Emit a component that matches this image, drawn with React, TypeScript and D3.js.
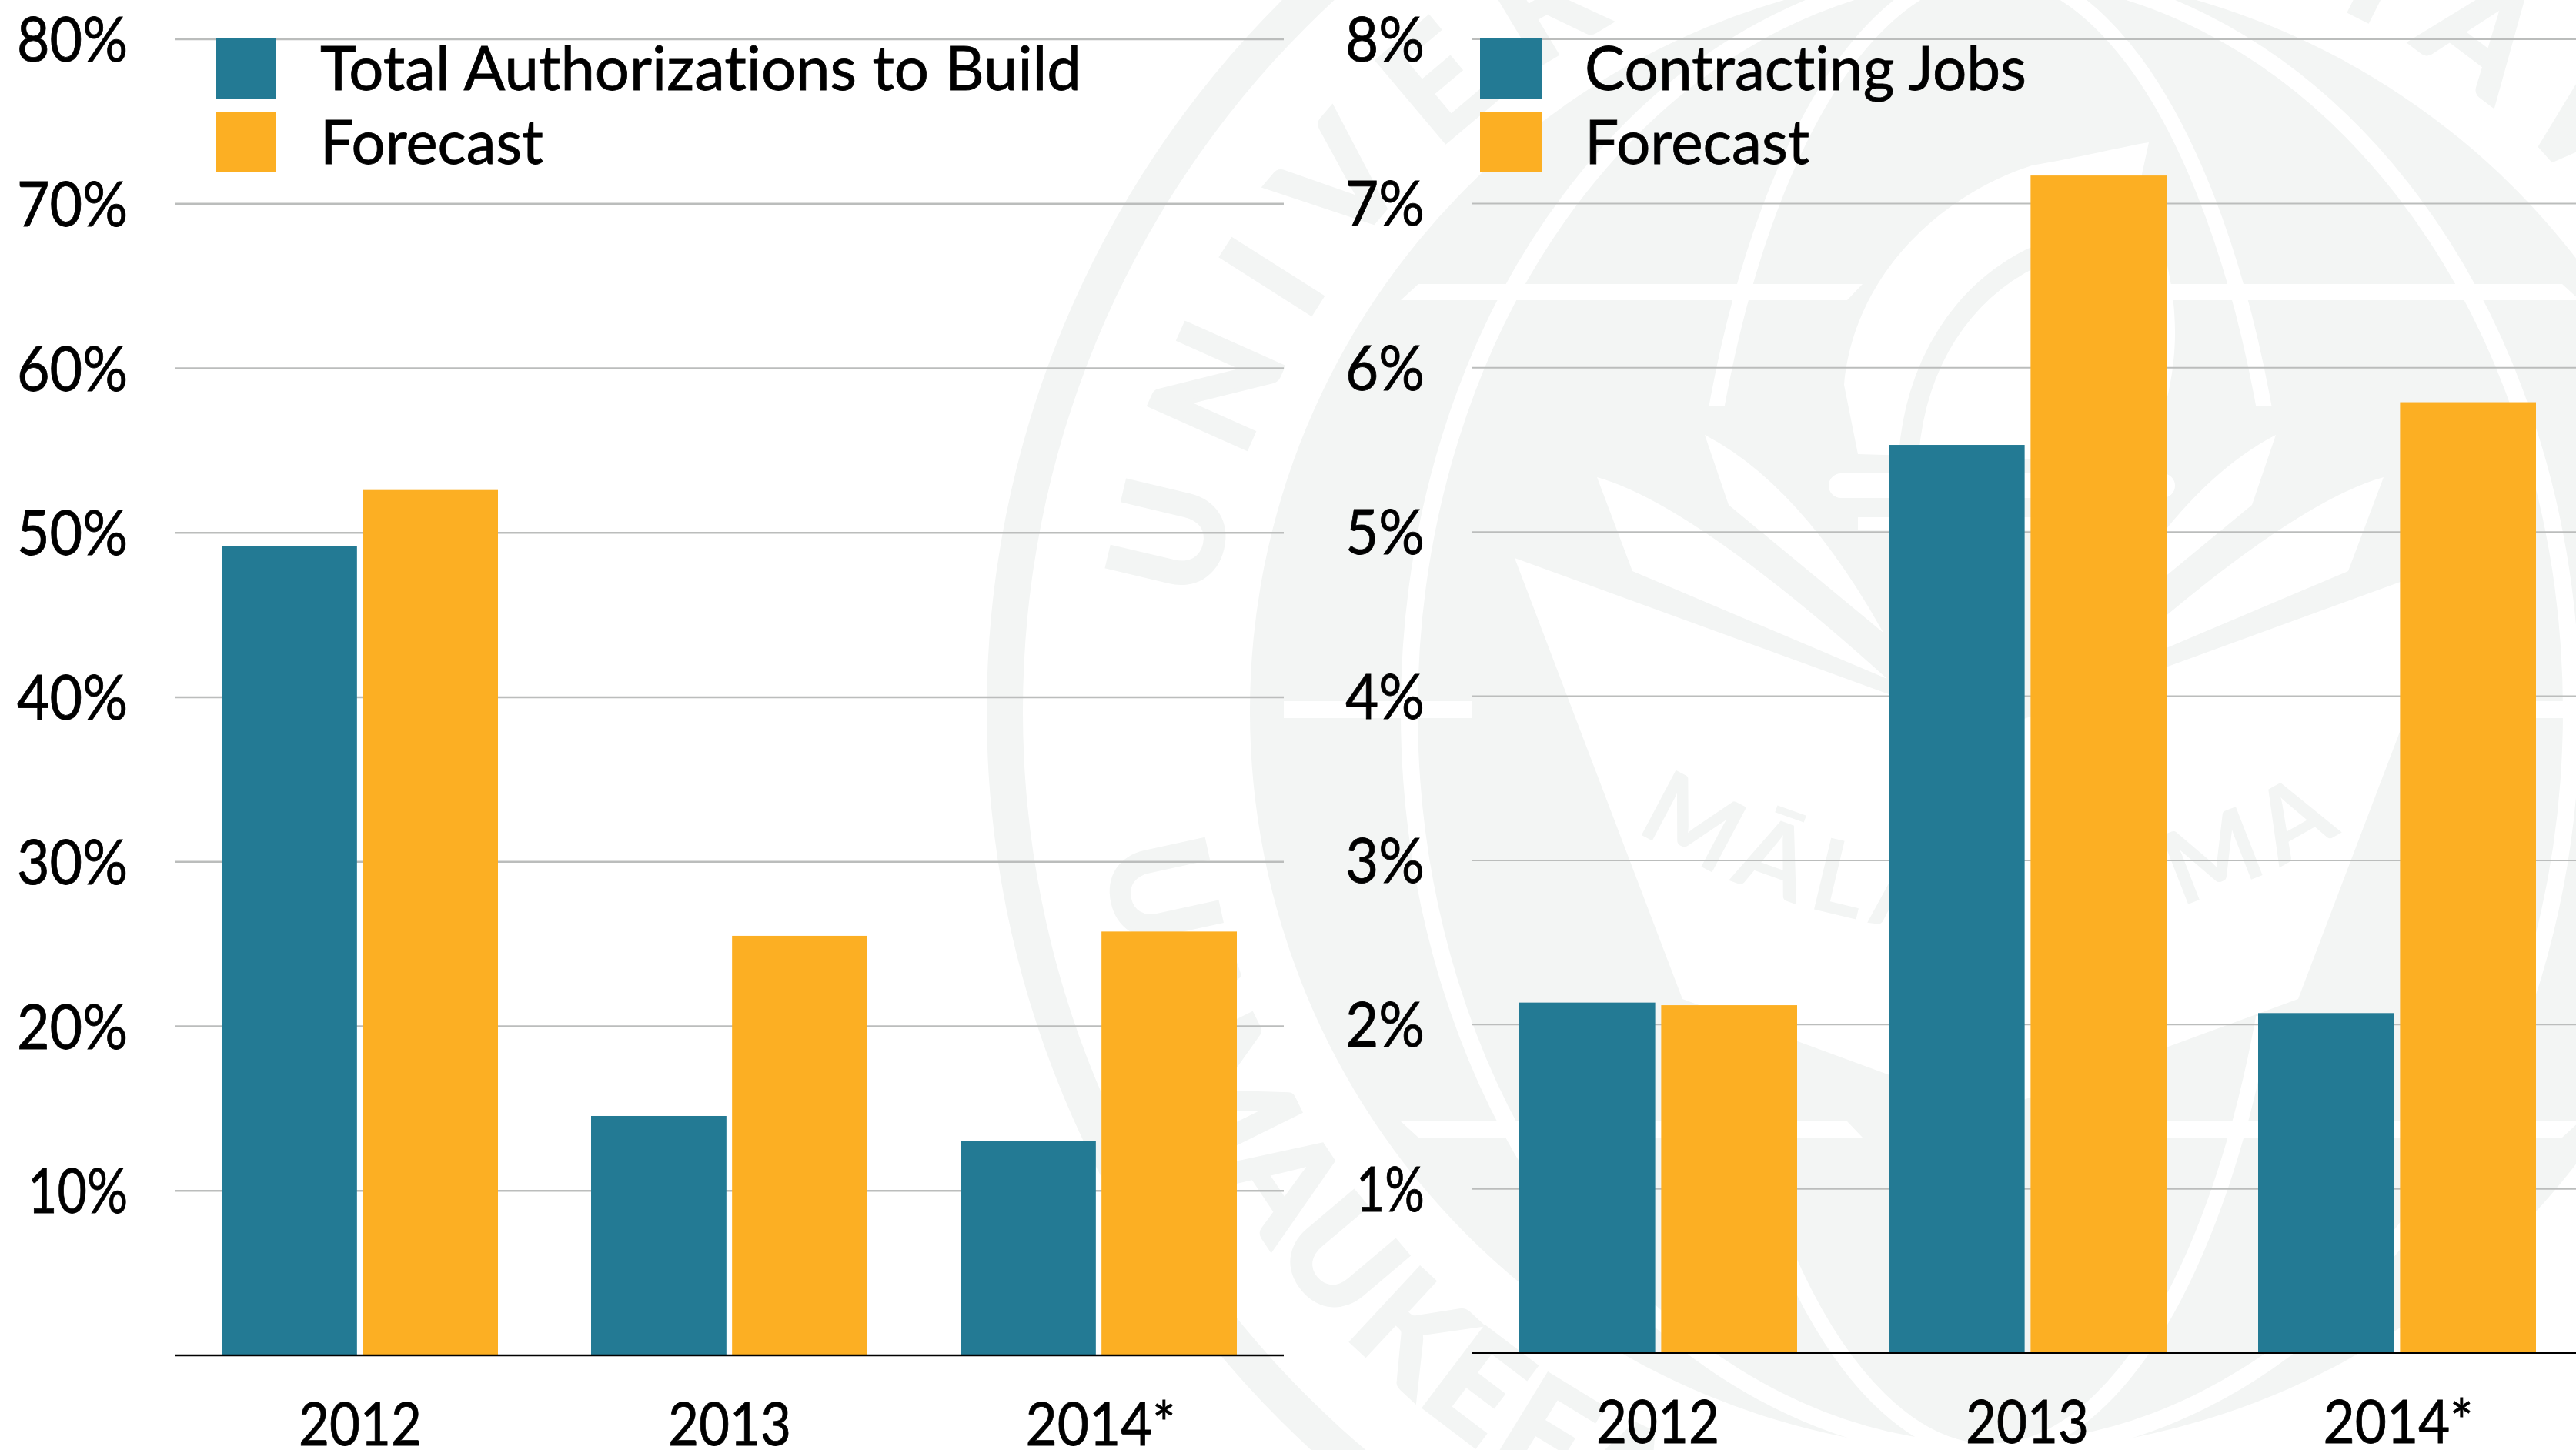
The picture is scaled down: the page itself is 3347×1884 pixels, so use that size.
import React from "react";
import * as d3 from "d3";

const years = ["2012", "2013", "2014*"];
const seriesKeys = ["actual", "forecast"];
const authorizationsActual = [49.2, 14.55, 13.05];
const authorizationsForecast = [52.6, 25.5, 25.76];
const contractingActual = [2.134, 5.53, 2.07];
const contractingForecast = [2.118, 7.17, 5.79];
const leftTicks = [10, 20, 30, 40, 50, 60, 70, 80];
const rightTicks = [1, 2, 3, 4, 5, 6, 7, 8];
const leftLegend = ["Total Authorizations to Build", "Forecast"];
const rightLegend = ["Contracting Jobs", "Forecast"];

const W = 3347;
const H = 1884;
const BLUE = "#237A94";
const ORANGE = "#FCAF23";
const GRID = "#BBBDBC";
const SEAL = "#F3F5F4";
const FONT = "Lato, 'Noto Sans', sans-serif";

const tickWidth = (s: string) =>
  s.replace("%", "").split("").reduce((a, c) => a + (c === "1" ? 27 : 41), 0) + 62;
const yearWidth = (s: string) => (s.endsWith("*") ? 195 : 160);

type PanelProps = {
  x0: number; x1: number; gridLeft: number; yBase: number; yTop: number; domainMax: number;
  ticks: number[]; actual: number[]; forecast: number[]; groupWidth: number; pad: number;
  labelEnd: number; legend: string[]; legendWidths: number[]; swatchX: number; swatchW: number;
  legendX: number[]; gridW: number; baseW: number;
};

function Panel(p: PanelProps) {
  const y = d3.scaleLinear().domain([0, p.domainMax]).range([p.yBase, p.yTop]);
  const x = d3.scaleBand<string>().domain(years).range([p.x0, p.x1]).paddingInner(0.25).paddingOuter(0.125);
  const sub = d3.scaleBand<string>().domain(seriesKeys).range([0, p.groupWidth]).paddingInner(p.pad);
  const colour = d3.scaleOrdinal<string, string>().domain(seriesKeys).range([BLUE, ORANGE]);
  const rows = seriesKeys.map((k, i) => ({ k, values: i === 0 ? p.actual : p.forecast }));
  const gridRight = Math.min(p.x1, W);
  return (
    <g fontFamily={FONT} fill="#000" stroke="none" style={{ fontVariantLigatures: "none" }}>
      {p.ticks.map((t) => (
        <line key={t} x1={p.gridLeft} x2={gridRight} y1={y(t)} y2={y(t)} stroke={GRID} strokeWidth={p.gridW} />
      ))}
      {rows.map((r) =>
        r.values.map((v, i) => (
          <rect
            key={r.k + i}
            x={(x(years[i]) as number) + (sub(r.k) as number)}
            y={y(v)}
            width={sub.bandwidth()}
            height={p.yBase - y(v)}
            fill={colour(r.k)}
          />
        ))
      )}
      <line x1={p.gridLeft} x2={gridRight} y1={p.yBase} y2={p.yBase} stroke="#000" strokeWidth={p.baseW} />
      {p.ticks.map((t) => {
        const s = `${t}%`;
        return (
          <text key={t} x={p.labelEnd} y={y(t) + 29} fontSize={82} textAnchor="end" stroke="#000" strokeWidth={0.8}
            textLength={tickWidth(s)} lengthAdjust="spacingAndGlyphs">{s}</text>
        );
      })}
      {years.map((c) => (
        <text key={c} x={(x(c) as number) + x.bandwidth() / 2 + (c.endsWith("*") ? 2 : 0)} y={p.yBase + 117} fontSize={78}
          textAnchor="middle" stroke="#000" strokeWidth={0.8} textLength={yearWidth(c)} lengthAdjust="spacingAndGlyphs">{c}</text>
      ))}
      {p.legend.map((l, i) => (
        <g key={l}>
          <rect x={p.swatchX} y={50 + i * 96} width={p.swatchW} height={78} fill={i === 0 ? BLUE : ORANGE} />
          <text x={p.legendX[i]} y={117 + i * 96} fontSize={80} stroke="#000" strokeWidth={0.8} textLength={p.legendWidths[i]}
            lengthAdjust="spacingAndGlyphs">{l}</text>
        </g>
      ))}
    </g>
  );
}

const CX = 2586;
const CY = 924;
const MOTTO_CY = 354;

function arcPath(cy: number, r: number, a0: number, a1: number, ccw: boolean) {
  const path = d3.path();
  path.arc(CX, cy, r, a0, a1, ccw);
  return path.toString();
}

function Seal() {
  const ring = d3.arc()({ innerRadius: 1257, outerRadius: 1304, startAngle: 0, endAngle: 2 * Math.PI }) as string;
  const deg = Math.PI / 180;
  const half = (
    <g fill="#fff">
      <polygon points="1820,390 1843,369 2420,369 2400,390" />
      <polygon points="1820,1457 1843,1478 2420,1478 2400,1457" />
      <rect x={1668} y={911} width={244} height={22} />
      <path d="M1968,725 L2586,950 L2586,1445 L2186,1298 Z" />
      <path d="M2075,620 Q2200,655 2452,882 L2121,742 Z" />
      <path d="M2215,565 Q2340,630 2447,822 L2246,656 Z" />
    </g>
  );
  return (
    <g>
      <defs>
        <clipPath id="meridian">
          <rect x={0} y={0} width={W} height={528} />
          <rect x={0} y={1320} width={W} height={H} />
        </clipPath>
        <path id="sealTop" d={arcPath(CY, 1022, Math.PI + 8 * deg, 2 * Math.PI - 8 * deg, false)} />
        <path id="sealBottom" d={arcPath(CY, 1165, Math.PI - 9 * deg, 9 * deg, true)} />
        <path id="sealMotto" d={arcPath(MOTTO_CY, 858, 122.5 * deg, 57 * deg, true)} />
      </defs>
      <path d={ring} transform={`translate(${CX},${CY})`} fill={SEAL} />
      <g fontFamily={FONT} fontWeight={700} fill={SEAL} stroke={SEAL} strokeWidth={6}>
        <text fontSize={190} letterSpacing={48}>
          <textPath href="#sealTop" startOffset="0">UNIVERSITY</textPath>
        </text>
        <text fontSize={190} letterSpacing={48} textAnchor="end">
          <textPath href="#sealTop" startOffset="100%">HAWAI‘I</textPath>
        </text>
        <text fontSize={180} letterSpacing={4} wordSpacing={-40}>
          <textPath href="#sealBottom" startOffset="0">UA MAU KE EA</textPath>
        </text>
        <text fontSize={180} letterSpacing={4} textAnchor="end">
          <textPath href="#sealBottom" startOffset="100%">PONO</textPath>
        </text>
      </g>
      <circle cx={CX} cy={CY} r={962} fill={SEAL} />
      <ellipse cx={CX} cy={CY} rx={755} ry={962} fill="none" stroke="#fff" strokeWidth={22} />
      <ellipse cx={CX} cy={CY} rx={390} ry={962} fill="none" stroke="#fff" strokeWidth={20} clipPath="url(#meridian)" />
      {half}
      <g transform={`translate(${2 * CX},0) scale(-1,1)`}>{half}</g>
      <path fill="#fff" d="M2414,590 L2396,500 C2410,350 2530,250 2640,215 C2700,205 2760,190 2792,185 L2780,240 C2820,330 2840,420 2815,520 L2760,600 Z" />
      <path fill="none" stroke={SEAL} strokeWidth={26} d="M2480,590 C2490,470 2550,380 2640,335 C2700,310 2760,310 2800,300" />
      <rect x={2376} y={615} width={450} height={32} rx={16} fill="#fff" />
      <rect x={2414} y={672} width={360} height={16} fill="#fff" />
      <g fontFamily={FONT} fontWeight={700} fill={SEAL} fontSize={132}>
        <text letterSpacing={14}>
          <textPath href="#sealMotto" startOffset="0">MĀLA</textPath>
        </text>
        <text letterSpacing={14} textAnchor="end">
          <textPath href="#sealMotto" startOffset="100%">MA</textPath>
        </text>
      </g>
    </g>
  );
}

export default function App() {
  return (
    <svg width={W} height={H} viewBox={`0 0 ${W} ${H}`}
      style={{ position: "absolute", left: 0, top: 0, display: "block", background: "#fff" }}>
      <rect width={W} height={H} fill="#fff" />
      <Seal />
      <Panel x0={228} x1={1668} gridLeft={228} yBase={1761} yTop={51} domainMax={80} ticks={leftTicks}
        actual={authorizationsActual} forecast={authorizationsForecast} groupWidth={359} pad={0.04}
        labelEnd={166} legend={leftLegend} legendWidths={[989, 290]} swatchX={280} swatchW={78}
        legendX={[416, 416]} gridW={2.6} baseW={2.6} />
      <Panel x0={1914} x1={3354} gridLeft={1912} yBase={1758} yTop={51} domainMax={8} ticks={rightTicks}
        actual={contractingActual} forecast={contractingForecast} groupWidth={361} pad={0.042}
        labelEnd={1851} legend={rightLegend} legendWidths={[574, 292]} swatchX={1923} swatchW={81}
        legendX={[2059, 2059]} gridW={2} baseW={2.2} />
    </svg>
  );
}
